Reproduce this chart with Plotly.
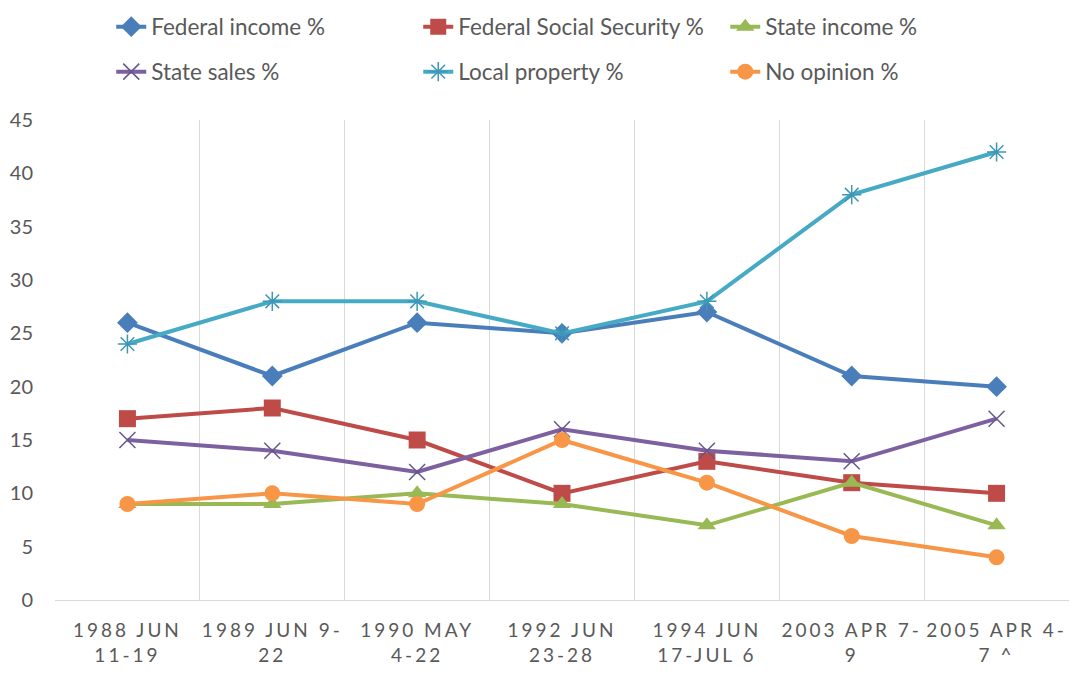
import plotly.graph_objects as go

categories = ["1988 JUN<br>11-19", "1989 JUN 9-<br>22", "1990 MAY<br>4-22", "1992 JUN<br>23-28",
              "1994 JUN<br>17-JUL 6", "2003 APR 7-<br>9", "2005 APR 4-<br>7 ^"]
federal_income = [26, 21, 26, 25, 27, 21, 20]
federal_ss = [17, 18, 15, 10, 13, 11, 10]
state_income = [9, 9, 10, 9, 7, 11, 7]
state_sales = [15, 14, 12, 16, 14, 13, 17]
local_property = [24, 28, 28, 25, 28, 38, 42]
no_opinion = [9, 10, 9, 15, 11, 6, 4]

series = [
    ("Federal income %", federal_income, "#4A7EBB", "#4A7EBB", "diamond", 16, "legend"),
    ("Federal Social Security %", federal_ss, "#BE4B48", "#BE4B48", "square", 17, "legend"),
    ("State income %", state_income, "#98B954", "#98B954", "triangle-up", 16, "legend"),
    ("State sales %", state_sales, "#7D60A0", "#66578A", "x-thin-open", 16, "legend2"),
    ("Local property %", local_property, "#46AAC5", "#3D97B5", "asterisk-open", 16, "legend2"),
    ("No opinion %", no_opinion, "#F79646", "#F79646", "circle", 16, "legend2"),
]

fig = go.Figure()
for name, vals, color, mcolor, sym, size, leg in series:
    marker = dict(symbol=sym, size=size, color=mcolor)
    if sym.endswith("open"):
        marker["line"] = dict(color=mcolor, width=1.5)
    fig.add_trace(go.Scatter(
        x=categories, y=vals, name=name, mode="lines+markers",
        line=dict(color=color, width=4), marker=marker, legend=leg,
    ))

txt = "#595959"
legend_common = dict(
    orientation="h", xanchor="left", yanchor="middle", xref="container", yref="container",
    x=0.103, font=dict(family="Lato", size=22.5, color=txt),
    entrywidth=262, entrywidthmode="pixels", bgcolor="rgba(0,0,0,0)",
)
fig.update_layout(
    width=1080, height=678,
    margin=dict(l=55, r=11, t=120, b=78, autoexpand=False),
    paper_bgcolor="white", plot_bgcolor="white",
    font=dict(family="Lato", color=txt),
    legend=dict(y=1 - 27 / 678, **legend_common),
    legend2=dict(y=1 - 72 / 678, **legend_common),
    xaxis=dict(
        type="category", tickson="boundaries", showgrid=True, gridcolor="#D9D9D9", gridwidth=1,
        showline=True, linecolor="#D9D9D9", linewidth=1, ticks="", range=[-0.5, 6.5],
        tickfont=dict(family="Lato", size=19, color=txt), ticklabelstandoff=13, automargin=False,
    ),
    yaxis=dict(
        range=[0, 45], tickvals=[0, 5, 10, 15, 20, 25, 30, 35, 40, 45], showgrid=False,
        zeroline=False, showline=False, ticks="", automargin=False,
        tickfont=dict(family="Lato", size=20, color=txt), ticklabelstandoff=21,
    ),
)

post = """
document.body.style.margin = '0';
var gd = document.getElementById('{plot_id}');
function ls(){ gd.querySelectorAll('.xtick text').forEach(function(t){ t.setAttribute('letter-spacing', '3px'); }); }
ls();
gd.on('plotly_afterplot', ls);
"""
fig.write_html("out.html", post_script=post, config={"displayModeBar": False})
